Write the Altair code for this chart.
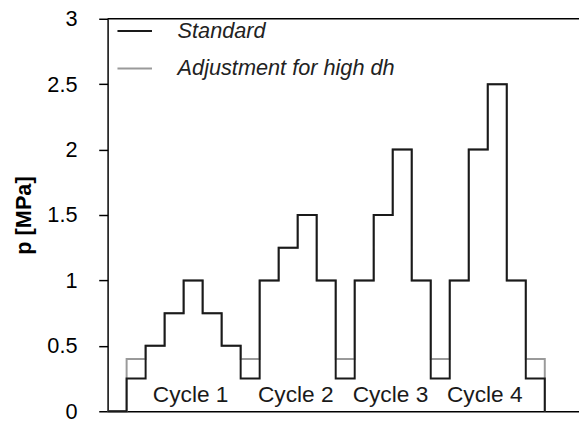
import altair as alt
import pandas as pd

# Step boundaries (index of each segment) and pressure levels [MPa]
step_index = list(range(24))
standard = [0, 0.25, 0.5, 0.75, 1.0, 0.75, 0.5, 0.25,
            1.0, 1.25, 1.5, 1.0, 0.25,
            1.0, 1.5, 2.0, 1.0, 0.25,
            1.0, 2.0, 2.5, 1.0, 0.25, 0]
adjusted = [0, 0.4, 0.5, 0.75, 1.0, 0.75, 0.5, 0.4,
            1.0, 1.25, 1.5, 1.0, 0.4,
            1.0, 1.5, 2.0, 1.0, 0.4,
            1.0, 2.0, 2.5, 1.0, 0.4, 0]
series_names = ["Standard", "Adjustment for high dh"]
series_colors = ["#1a1a1a", "#9a9a9a"]

cycle_labels = ["Cycle 1", "Cycle 2", "Cycle 3", "Cycle 4"]
cycle_x = [4.37, 9.9, 14.88, 19.84]
cycle_y = [0.07, 0.07, 0.07, 0.07]

y_ticks = [0, 0.5, 1, 1.5, 2, 2.5, 3]
x_domain = [0, 24.8]
y_domain = [0, 3]

FONT = "Liberation Sans"
W, H = 478, 398

df_std = pd.DataFrame({"x": step_index, "p": standard, "series": series_names[0]})
df_adj = pd.DataFrame({"x": step_index, "p": adjusted, "series": series_names[1]})
df_cyc = pd.DataFrame({"x": cycle_x, "p": cycle_y, "label": cycle_labels})

xs = alt.X("x:Q", scale=alt.Scale(domain=x_domain, nice=False, zero=False),
           axis=alt.Axis(labels=False, ticks=False, grid=False, title=None,
                         domainColor="black", domainWidth=1.5))
ys = alt.Y("p:Q", scale=alt.Scale(domain=y_domain, nice=False),
           axis=alt.Axis(values=y_ticks, format="~g", grid=False, title="p [MPa]",
                         tickSize=9, tickWidth=1.5, tickColor="black",
                         domainColor="black", domainWidth=1.5,
                         labelFont=FONT, labelFontSize=22, labelColor="black",
                         labelPadding=22,
                         titleFont=FONT, titleFontSize=22, titleFontWeight="bold",
                         titleColor="black", titlePadding=12))

color = alt.Color("series:N",
                  scale=alt.Scale(domain=series_names, range=series_colors),
                  legend=alt.Legend(title=None, orient="none", legendX=9, legendY=-6,
                                    symbolType="stroke", symbolSize=1225,
                                    symbolStrokeWidth=2, labelFont=FONT,
                                    labelFontSize=22, labelFontStyle="italic",
                                    labelColor="#222", labelOffset=25, labelLimit=400,
                                    rowPadding=8, padding=0))

adj_line = alt.Chart(df_adj).mark_line(interpolate="step-after", strokeWidth=2).encode(
    x=xs, y=ys, color=color)
std_line = alt.Chart(df_std).mark_line(interpolate="step-after", strokeWidth=2).encode(
    x=xs, y=ys, color=color)

top_rule = alt.Chart(pd.DataFrame({"p": [y_domain[1]]})).mark_rule(
    color="black", strokeWidth=1.5).encode(y=alt.Y("p:Q"), x=alt.value(0), x2=alt.value(W))

cycles = alt.Chart(df_cyc).mark_text(font=FONT, fontSize=23, color="#1a1a1a",
                                     align="center", baseline="alphabetic").encode(
    x="x:Q", y="p:Q", text="label:N")

chart = alt.layer(adj_line, std_line, top_rule, cycles).properties(
    width=W, height=H,
    autosize=alt.AutoSizeParams(type="none"),
    padding={"left": 101, "top": 8, "right": 0, "bottom": 10},
).configure_view(stroke=None)

chart.save("out.html", embed_options={"renderer": "svg", "actions": False})
